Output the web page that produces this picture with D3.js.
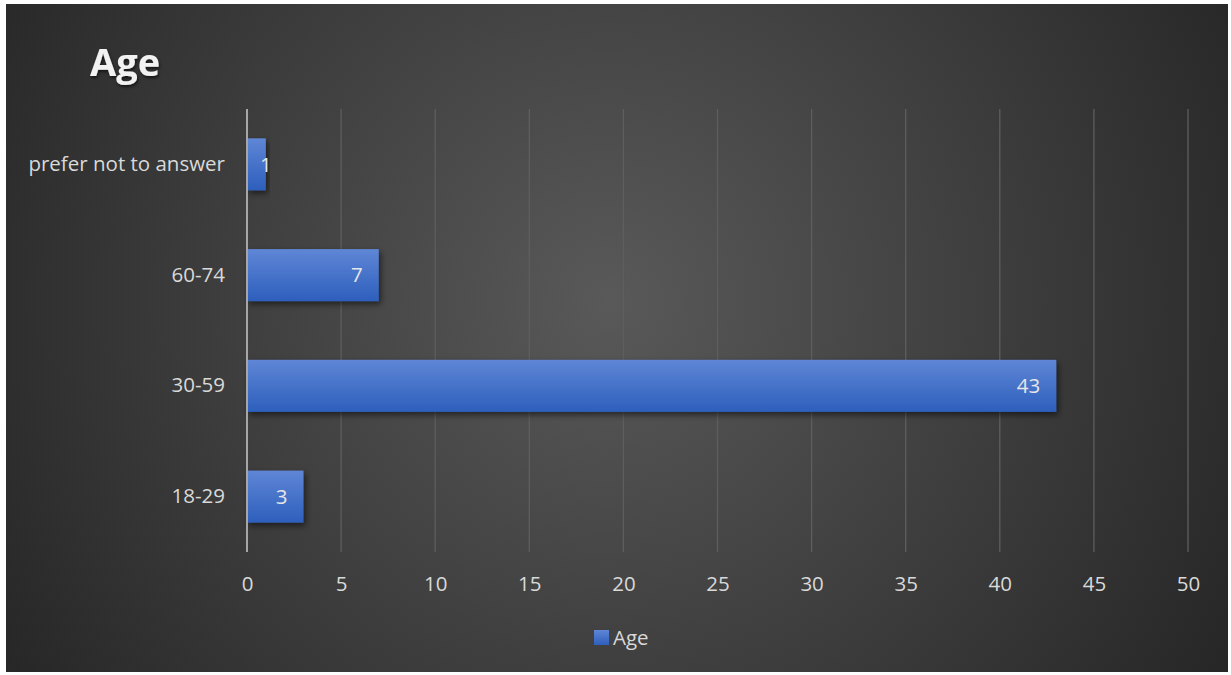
<!DOCTYPE html>
<html><head><meta charset="utf-8">
<script src="https://cdn.jsdelivr.net/npm/d3@7"></script>
<style>
html,body{margin:0;padding:0;background:#fff;}
svg{display:block;}
text{font-family:"Open Sans","Noto Sans",sans-serif;}
</style></head>
<body>
<svg id="c" width="1231" height="675"></svg>
<script>
const categories = ["18-29", "30-59", "60-74", "prefer not to answer"];
const values = [3, 43, 7, 1];
const xTicks = [0, 5, 10, 15, 20, 25, 30, 35, 40, 45, 50];
const seriesName = "Age";
const title = "Age";

const FONT = '"Open Sans","Noto Sans",sans-serif';
const FS = 20.5;
const svg = d3.select("#c");
const bg = {x: 6, y: 4, w: 1222, h: 668};

const defs = svg.append("defs");
const rg = defs.append("radialGradient").attr("id", "bgGrad")
  .attr("gradientUnits", "userSpaceOnUse")
  .attr("cx", 610).attr("cy", 300).attr("r", 720);
rg.append("stop").attr("offset", "0%").attr("stop-color", "#595959");
rg.append("stop").attr("offset", "100%").attr("stop-color", "#262626");

const bgr = defs.append("linearGradient").attr("id", "barGrad")
  .attr("x1", 0).attr("y1", 0).attr("x2", 0).attr("y2", 1);
bgr.append("stop").attr("offset", "0%").attr("stop-color", "#5f86d6");
bgr.append("stop").attr("offset", "100%").attr("stop-color", "#2d5fbc");

const f = defs.append("filter").attr("id", "shadow").attr("x", "-10%").attr("y", "-20%").attr("width", "130%").attr("height", "160%");
f.append("feDropShadow").attr("dx", 2).attr("dy", 3).attr("stdDeviation", 3).attr("flood-color", "#000").attr("flood-opacity", 0.55);

const tf = defs.append("filter").attr("id", "tshadow").attr("x", "-20%").attr("y", "-20%").attr("width", "140%").attr("height", "160%");
tf.append("feDropShadow").attr("dx", 1).attr("dy", 2).attr("stdDeviation", 1.5).attr("flood-color", "#000").attr("flood-opacity", 0.6);

svg.append("rect").attr("x", bg.x).attr("y", bg.y).attr("width", bg.w).attr("height", bg.h).attr("fill", "url(#bgGrad)");

const plot = {left: 247, right: 1188, top: 109, bottom: 552};
const x = d3.scaleLinear().domain([0, 50]).range([plot.left, plot.right]);
const y = d3.scaleBand().domain(categories.slice().reverse()).range([plot.top, plot.bottom]).paddingInner(0.53).paddingOuter(0.265);

// gridlines
svg.append("g").selectAll("line").data(xTicks.filter(d => d > 0)).join("line")
  .attr("x1", d => x(d)).attr("x2", d => x(d))
  .attr("y1", plot.top).attr("y2", plot.bottom)
  .attr("stroke", "#5e5e5e").attr("stroke-width", 1.3);

// bars
svg.append("g").selectAll("rect").data(categories).join("rect")
  .attr("x", x(0)).attr("y", d => y(d))
  .attr("width", (d, i) => x(values[i]) - x(0))
  .attr("height", y.bandwidth())
  .attr("fill", "url(#barGrad)")
  .attr("filter", "url(#shadow)");

// axis line
svg.append("line").attr("x1", x(0)).attr("x2", x(0)).attr("y1", plot.top).attr("y2", plot.bottom)
  .attr("stroke", "#a6a6a6").attr("stroke-width", 2);

// data labels
svg.append("g").selectAll("text").data(categories).join("text")
  .attr("x", (d, i) => values[i] === 1 ? x(values[i]) + 6 : x(values[i]) - 16)
  .attr("y", d => y(d) + y.bandwidth() / 2)
  .attr("dy", "0.35em")
  .attr("text-anchor", "end")
  .attr("fill", "#e6e6e6").attr("font-size", FS)
  .text((d, i) => values[i]);

// x axis ticks
const xAxis = d3.axisBottom(x).tickValues(xTicks).tickSize(0).tickPadding(0);
const gx = svg.append("g").attr("transform", `translate(0,${plot.bottom})`).call(xAxis);
gx.select(".domain").remove();
gx.selectAll("text").attr("y", 32).attr("dy", "0.35em").attr("fill", "#d9d9d9").attr("font-size", FS)
  .style("font-family", FONT);

// y axis labels
const yAxis = d3.axisLeft(y).tickSize(0).tickPadding(22);
const gy = svg.append("g").attr("transform", `translate(${plot.left},0)`).call(yAxis);
gy.select(".domain").remove();
gy.selectAll("text").attr("fill", "#d9d9d9").attr("font-size", FS)
  .style("font-family", FONT);

// title
svg.append("text").attr("x", 90).attr("y", 76).attr("fill", "#f2f2f2")
  .attr("font-size", 38).attr("font-weight", "bold").attr("filter", "url(#tshadow)").text(title);

// legend
const lg = svg.append("g");
lg.append("rect").attr("x", 594).attr("y", 630).attr("width", 15).attr("height", 15).attr("fill", "url(#barGrad)");
lg.append("text").attr("x", 613).attr("y", 637.5).attr("dy", "0.35em").attr("fill", "#d9d9d9").attr("font-size", FS).text(seriesName);
</script>
</body></html>
